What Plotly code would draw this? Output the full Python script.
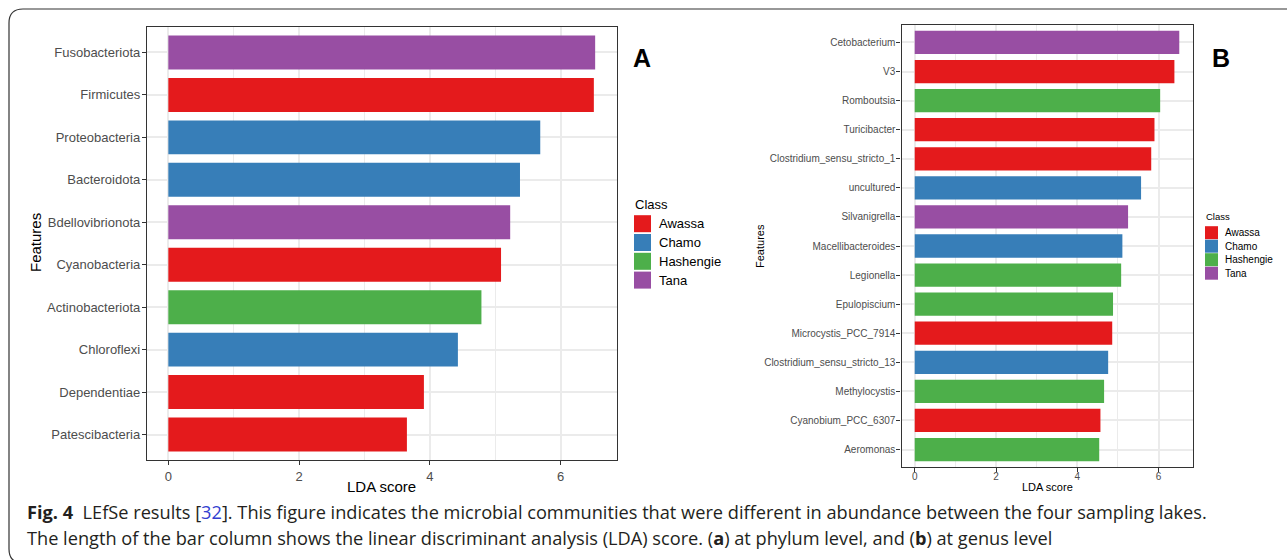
import plotly.graph_objects as go

W, H = 1287, 560

# ---- data -------------------------------------------------------------
class_names = ["Awassa", "Chamo", "Hashengie", "Tana"]
class_colors = {"Awassa": "#E41A1C", "Chamo": "#377EB8",
                "Hashengie": "#4DAF4A", "Tana": "#984EA3"}

phylum_features = ["Fusobacteriota", "Firmicutes", "Proteobacteria", "Bacteroidota",
                   "Bdellovibrionota", "Cyanobacteria", "Actinobacteriota",
                   "Chloroflexi", "Dependentiae", "Patescibacteria"]
phylum_lda = [6.53, 6.51, 5.69, 5.38, 5.23, 5.09, 4.79, 4.43, 3.91, 3.65]
phylum_class = ["Tana", "Awassa", "Chamo", "Chamo", "Tana", "Awassa",
                "Hashengie", "Chamo", "Awassa", "Awassa"]

genus_features = ["Cetobacterium", "V3", "Romboutsia", "Turicibacter",
                  "Clostridium_sensu_stricto_1", "uncultured", "Silvanigrella",
                  "Macellibacteroides", "Legionella", "Epulopiscium",
                  "Microcystis_PCC_7914", "Clostridium_sensu_stricto_13",
                  "Methylocystis", "Cyanobium_PCC_6307", "Aeromonas"]
genus_lda = [6.51, 6.39, 6.04, 5.90, 5.82, 5.57, 5.25, 5.11, 5.08, 4.88,
             4.86, 4.76, 4.66, 4.57, 4.54]
genus_class = ["Tana", "Awassa", "Hashengie", "Awassa", "Awassa", "Chamo",
               "Tana", "Chamo", "Hashengie", "Hashengie", "Awassa", "Chamo",
               "Hashengie", "Awassa", "Hashengie"]

x_ticks = [0, 2, 4, 6]


def px(x):
    return x / W


def py(y):
    return 1 - y / H


fig = go.Figure()

fig.add_trace(go.Bar(
    x=phylum_lda, y=phylum_features, orientation="h", width=0.8,
    marker=dict(color=[class_colors[c] for c in phylum_class], line=dict(width=0)),
    xaxis="x", yaxis="y", showlegend=False, hoverinfo="x+y"))

fig.add_trace(go.Bar(
    x=genus_lda, y=genus_features, orientation="h", width=0.8,
    marker=dict(color=[class_colors[c] for c in genus_class], line=dict(width=0)),
    xaxis="x2", yaxis="y2", showlegend=False, hoverinfo="x+y"))

grey_text = "#4D4D4D"
frame = "#333333"
grid = "#EBEBEB"
base_font = "Liberation Sans, Arial, sans-serif"


def x_axis(domain, vmax, size, gw, anchor, standoff):
    return dict(
        domain=domain, anchor=anchor, range=[-0.05 * vmax, 1.05 * vmax],
        tickmode="array", tickvals=x_ticks, ticktext=[str(t) for t in x_ticks],
        showgrid=True, gridcolor=grid, gridwidth=gw,
        minor=dict(tickmode="array", tickvals=[1, 3, 5], showgrid=True,
                   gridcolor=grid, gridwidth=gw / 2, ticks=""),
        zeroline=False, showline=True, mirror=True, linecolor=frame, linewidth=1.3,
        ticks="outside", ticklen=4, tickwidth=1.1, tickcolor=frame,
        ticklabelstandoff=standoff,
        tickfont=dict(family=base_font, size=size, color=grey_text),
        fixedrange=True)


def y_axis(domain, cats, size, gw, anchor):
    n = len(cats)
    return dict(
        domain=domain, anchor=anchor, type="category",
        categoryorder="array", categoryarray=cats, range=[n - 0.4, -0.6],
        showgrid=True, gridcolor=grid, gridwidth=gw,
        zeroline=False, showline=True, mirror=True, linecolor=frame, linewidth=1.3,
        ticks="outside", ticklen=4, tickwidth=1.1, tickcolor=frame,
        ticklabelstandoff=-1,
        tickfont=dict(family=base_font, size=size, color=grey_text),
        fixedrange=True)


fig.update_layout(
    width=W, height=H, margin=dict(l=0, r=0, t=0, b=0),
    paper_bgcolor="white", plot_bgcolor="white",
    bargap=0.2, showlegend=False,
    xaxis=x_axis([px(147), px(616.5)], max(phylum_lda), 13, 2, "y", 0),
    yaxis=y_axis([py(460), py(27)], phylum_features, 13, 2, "x"),
    xaxis2=x_axis([px(901.5), px(1192.5)], max(genus_lda), 10, 1.6, "y2", -4),
    yaxis2=y_axis([py(467), py(25)], genus_features, 10, 1.6, "x2"),
)

ann = []
shapes = []


def text(x, y, s, size, color="black", angle=0, xanchor="center",
         family=base_font):
    ann.append(dict(x=px(x), y=py(y), xref="paper", yref="paper", text=s,
                    showarrow=False, textangle=angle, xanchor=xanchor,
                    yanchor="middle", font=dict(family=family, size=size, color=color)))


# axis titles
text(35, 243, "Features", 15, angle=-90)
text(381.75, 486, "LDA score", 15)
text(760, 246, "Features", 11, angle=-90)
text(1047, 487, "LDA score", 11)

# panel letters
text(642, 58, "<b>A</b>", 25)
text(1221, 58, "<b>B</b>", 25)


def legend(x0, title_y, first_y, step, key, size_title, size_item, text_x):
    text(x0 - 1, title_y, "Class", size_title, xanchor="left")
    for i, c in enumerate(class_names):
        cy = first_y + i * step
        shapes.append(dict(type="rect", xref="paper", yref="paper",
                           x0=px(x0), x1=px(x0 + key),
                           y0=py(cy + key / 2), y1=py(cy - key / 2),
                           fillcolor=class_colors[c], line=dict(width=0)))
        text(text_x, cy, c, size_item, xanchor="left")


legend(634, 204, 223.7, 18.8, 17, 13, 13, 657)
legend(1205, 217, 232.7, 13.5, 13, 9.5, 10, 1223)

# caption
cap_font = "Open Sans, Noto Sans, sans-serif"
cap_color = "#231F20"
text(25, 511.5,
     "<b>Fig. 4</b>\u00a0\u00a0LEfSe results [<span style='color:#3340D0'>32</span>]. "
     "This figure indicates the microbial communities that were different in "
     "abundance between the four sampling lakes.",
     18.2, color=cap_color, xanchor="left", family=cap_font)
text(25, 537.5,
     "The length of the bar column shows the linear discriminant analysis (LDA) "
     "score. (<b>a</b>) at phylum level, and (<b>b</b>) at genus level",
     18.2, color=cap_color, xanchor="left", family=cap_font)

# rounded outer frame
r = 14
L, T, R, B = 9, 9, 1300, 563
path = (f"M {px(L)},{py(B - r)} L {px(L)},{py(T + r)} "
        f"Q {px(L)},{py(T)} {px(L + r)},{py(T)} L {px(R)},{py(T)} "
        f"M {px(L)},{py(B - r)} Q {px(L)},{py(B)} {px(L + r)},{py(B)} L {px(R)},{py(B)}")
shapes.append(dict(type="path", xref="paper", yref="paper", path=path,
                   line=dict(color="#333333", width=1.2)))

fig.update_layout(annotations=ann, shapes=shapes)

fig.write_html("out.html")
